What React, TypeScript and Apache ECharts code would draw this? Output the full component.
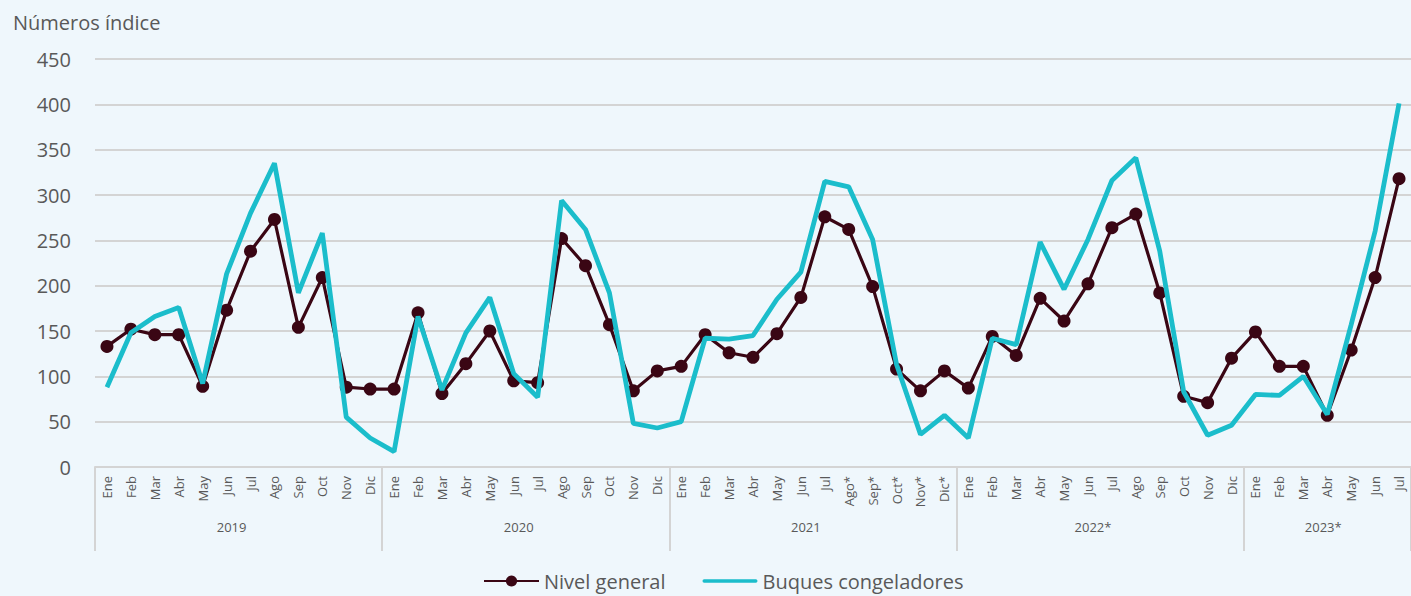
import React, { useEffect, useRef } from "react";
import * as echarts from "echarts";

const years = ["2019", "2020", "2021", "2022*", "2023*"];
const months2019 = ["Ene", "Feb", "Mar", "Abr", "May", "Jun", "Jul", "Ago", "Sep", "Oct", "Nov", "Dic"];
const months2020 = ["Ene", "Feb", "Mar", "Abr", "May", "Jun", "Jul", "Ago", "Sep", "Oct", "Nov", "Dic"];
const months2021 = ["Ene", "Feb", "Mar", "Abr", "May", "Jun", "Jul", "Ago*", "Sep*", "Oct*", "Nov*", "Dic*"];
const months2022 = ["Ene", "Feb", "Mar", "Abr", "May", "Jun", "Jul", "Ago", "Sep", "Oct", "Nov", "Dic"];
const months2023 = ["Ene", "Feb", "Mar", "Abr", "May", "Jun", "Jul"];
const monthGroups = [months2019, months2020, months2021, months2022, months2023];

const nivelGeneral = [
  133, 152, 146, 146, 89, 173, 238, 273, 154, 209, 88, 86,
  86, 170, 81, 114, 150, 95, 93, 252, 222, 157, 84, 106,
  111, 146, 126, 121, 147, 187, 276, 262, 199, 108, 84, 106,
  87, 144, 123, 186, 161, 202, 264, 279, 192, 78, 71, 120,
  149, 111, 111, 57, 129, 209, 318,
];
const buquesCongeladores = [
  88, 148, 166, 176, 92, 213, 280, 335, 192, 258, 55, 32,
  17, 166, 85, 148, 187, 103, 77, 294, 262, 192, 48, 43,
  50, 142, 141, 145, 185, 215, 315, 309, 251, 113, 36, 57,
  32, 142, 135, 248, 196, 251, 316, 341, 238, 83, 35, 46,
  80, 79, 100, 58, 157, 260, 401,
];

const yTicks = { min: 0, max: 450, interval: 50 };

export default function App() {
  const ref = useRef<HTMLDivElement>(null);
  useEffect(() => {
    if (!ref.current) return;
    const chart = echarts.init(ref.current, null, { renderer: "svg" });

    const categories: string[] = [];
    const yearOfCat: string[] = [];
    const groupStart = new Set<number>();
    const groupMid = new Map<number, boolean>();
    monthGroups.forEach((g, gi) => {
      groupStart.add(categories.length);
      const full = g.length === 12;
      const mid = categories.length + (full ? 5 : Math.floor(g.length / 2));
      groupMid.set(mid, full);
      g.forEach((m) => {
        categories.push(m);
        yearOfCat.push(years[gi]);
      });
    });

    const font = "'Open Sans', 'DejaVu Sans', sans-serif";
    const narrow = "'Liberation Sans Narrow', 'Open Sans', sans-serif";
    const textColor = "#595959";
    const gridColor = "#D4D4D4";
    const dark = "#3A0614";
    const cyan = "#1BBDCB";

    chart.setOption({
      animation: false,
      backgroundColor: "#EFF7FC",
      textStyle: { fontFamily: font },
      title: {
        text: "Números índice",
        left: 8,
        top: 7,
        textStyle: { fontFamily: font, fontSize: 20, fontWeight: "normal", color: textColor },
      },
      legend: {
        left: 478,
        top: 566,
        itemWidth: 55,
        itemHeight: 14,
        itemGap: 37,
        textStyle: { fontFamily: font, fontSize: 20, color: textColor },
        data: [
          { name: "Nivel general" },
          { name: "Buques congeladores", icon: "path://M3,0 L97,0 A3,3 0 0 1 97,6 L3,6 A3,3 0 0 1 3,0 Z" },
        ],
      },
      grid: { left: 95, right: 0, top: 59, bottom: 129, containLabel: false },
      xAxis: [
        {
          type: "category",
          data: categories,
          boundaryGap: true,
          position: "bottom",
          axisLine: { show: true, lineStyle: { color: gridColor, width: 2 } },
          axisTick: { show: false },
          axisLabel: {
            rotate: 90,
            interval: 0,
            margin: 9,
            fontSize: 13,
            fontFamily: font,
            color: textColor,
          },
        },
        {
          type: "category",
          data: yearOfCat,
          boundaryGap: true,
          position: "bottom",
          offset: 0,
          axisLine: { show: false },
          axisTick: {
            show: true,
            length: 84,
            interval: (index: number) => groupStart.has(index),
            lineStyle: { color: gridColor, width: 2 },
          },
          axisLabel: {
            interval: (index: number) => groupMid.has(index),
            margin: 53,
            fontSize: 13,
            fontFamily: narrow,
            color: textColor,
            formatter: (value: string, index: number) =>
              groupMid.get(index) ? `{f|${value}}` : `{p|${value}}`,
            rich: {
              f: { padding: [0, 0, 0, 10], fontSize: 13, color: textColor, fontFamily: narrow },
              p: { padding: [0, 0, 0, -8], fontSize: 13, color: textColor, fontFamily: narrow },
            },
          },
        },
      ],
      yAxis: {
        type: "value",
        min: yTicks.min,
        max: yTicks.max,
        interval: yTicks.interval,
        axisLine: { show: false },
        axisTick: { show: false },
        axisLabel: { fontSize: 20, margin: 24, fontFamily: font, color: textColor },
        splitLine: { lineStyle: { color: gridColor, width: 2 } },
      },
      series: [
        {
          name: "Nivel general",
          type: "line",
          data: nivelGeneral,
          symbol: "circle",
          symbolSize: 13,
          lineStyle: { color: dark, width: 3.2 },
          itemStyle: { color: dark },
          z: 2,
        },
        {
          name: "Buques congeladores",
          type: "line",
          data: buquesCongeladores,
          symbol: "none",
          lineStyle: { color: cyan, width: 4.8 },
          itemStyle: { color: cyan },
          z: 3,
        },
      ],
    });
    return () => chart.dispose();
  }, []);

  return (
    <div
      ref={ref}
      style={{ position: "fixed", left: 0, top: 0, width: 1411, height: 596 }}
    />
  );
}
